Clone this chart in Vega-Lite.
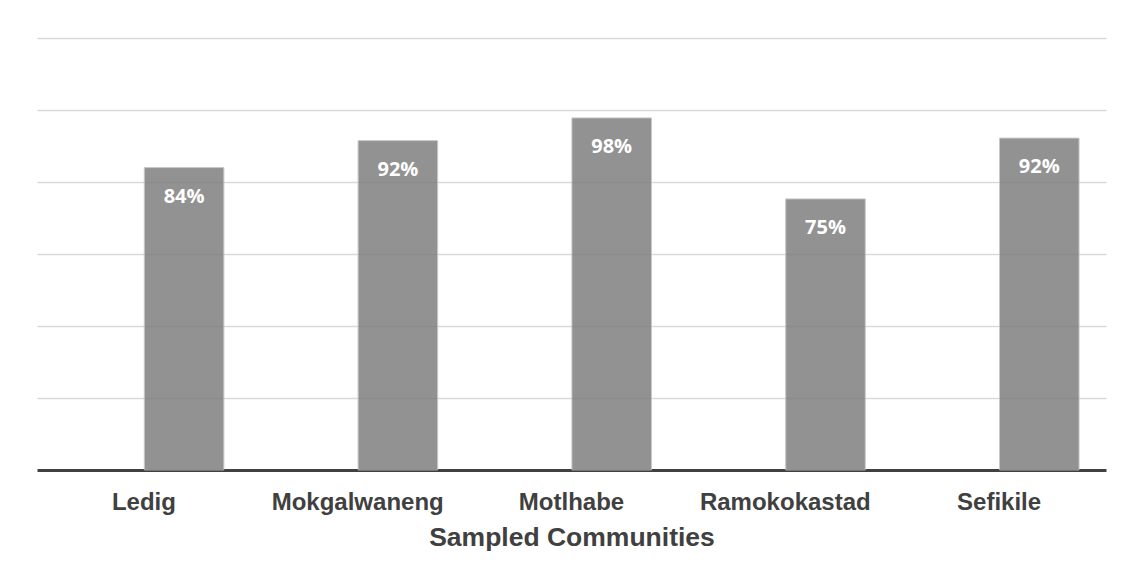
{
  "$schema": "https://vega.github.io/schema/vega-lite/v6.json",
  "autosize": {"type": "none"},
  "padding": {"left": 37, "top": 38, "right": 19, "bottom": 108},
  "width": 1069,
  "height": 432,
  "background": "white",
  "config": {"view": {"stroke": null}},
  "data": {
    "values": [
      {"community": "Ledig", "pct": 0.84, "series": "Percentage"},
      {"community": "Mokgalwaneng", "pct": 0.915, "series": "Percentage"},
      {"community": "Motlhabe", "pct": 0.978, "series": "Percentage"},
      {"community": "Ramokokastad", "pct": 0.753, "series": "Percentage"},
      {"community": "Sefikile", "pct": 0.922, "series": "Percentage"}
    ]
  },
  "encoding": {
    "x": {
      "field": "community",
      "type": "nominal",
      "sort": null,
      "scale": {"paddingInner": 0.252, "paddingOuter": 0.126},
      "axis": {
        "title": "Sampled Communities",
        "labelAngle": 0,
        "ticks": false,
        "labelPadding": 20,
        "labelFont": "Liberation Sans",
        "labelFontSize": 24,
        "labelFontWeight": "bold",
        "labelColor": "#404040",
        "titleFont": "Liberation Sans",
        "titleFontSize": 26.5,
        "titleFontWeight": "bold",
        "titleColor": "#404040",
        "titlePadding": 10,
        "domainColor": "#404040",
        "domainWidth": 3,
        "grid": false
      }
    },
    "xOffset": {
      "field": "series",
      "scale": {"domain": ["(blank)", "Percentage"], "paddingInner": 0.01}
    },
    "y": {
      "field": "pct",
      "type": "quantitative",
      "scale": {"domain": [0, 1.2], "nice": false},
      "axis": {
        "title": null,
        "labels": false,
        "ticks": false,
        "domain": false,
        "values": [0.2, 0.4, 0.6, 0.8, 1.0, 1.2],
        "gridColor": "#d9d9d9",
        "gridWidth": 1.5
      }
    }
  },
  "layer": [
    {
      "mark": {"type": "bar", "color": "#7f7f7f", "opacity": 0.85, "stroke": "#bfbfbf", "strokeWidth": 1, "strokeOpacity": 1}
    },
    {
      "mark": {"type": "text", "baseline": "top", "dy": 19, "font": "Open Sans", "fontSize": 20, "fontWeight": "bold", "color": "white"},
      "encoding": {
        "text": {"field": "pct", "type": "quantitative", "format": ".0%"}
      }
    }
  ]
}
